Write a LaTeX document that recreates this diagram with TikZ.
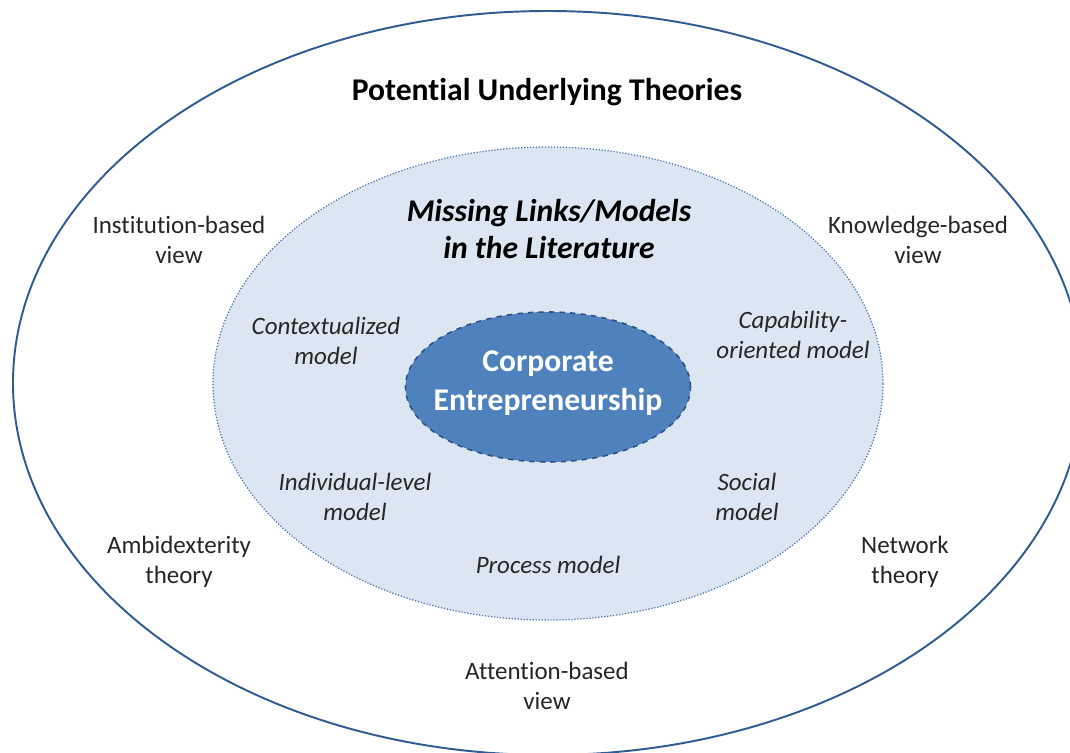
\documentclass[tikz,border=0pt]{standalone}
\usepackage{fontspec}
\setmainfont{Carlito}[Ligatures=CommonOff]
\usetikzlibrary{shapes.geometric}
\definecolor{ringblue}{HTML}{2F5C93}
\definecolor{lightfill}{HTML}{DCE6F2}
\definecolor{midline}{HTML}{4A74A8}
\definecolor{corefill}{HTML}{4F81BD}
\definecolor{coreline}{HTML}{2E5382}
\definecolor{txt}{HTML}{262626}
\tikzset{
	theory/.style={align=center, text=txt, font=\fontsize{14.2}{17.1}\selectfont},
	gap/.style={align=center, text=txt, font=\fontsize{14.2}{17.1}\selectfont\itshape},
	heading/.style={align=center, text=black, font=\fontsize{18}{21.6}\selectfont\bfseries}
}
\begin{document}
\begin{tikzpicture}
	\useasboundingbox (-10.96,-7.36) rectangle (10.44,7.68);
	\fill[white] (-10.96,-7.36) rectangle (10.44,7.68);

	\node (outer)	at (0,0.02) [ellipse, draw=ringblue, line width=1.1pt, minimum width=21.4cm, minimum height=14.88cm] {};
	\node (middle)	at (0,0.01) [ellipse, draw=midline, fill=lightfill, densely dotted, line width=0.7pt, minimum width=13.4cm, minimum height=9.46cm] {};
	\node (core)	at (0,-0.06) [ellipse, draw=coreline, fill=corefill, dashed, line width=0.9pt, minimum width=5.7cm, minimum height=3cm] {};

	\node (title)		at (-0.02,5.84) [heading] {Potential Underlying Theories};
	\node (missing)		at (0.02,3.1) [heading, font=\fontsize{18}{21.6}\selectfont\bfseries\itshape] {Missing Links/Models\\in the Literature};
	\node (ce)			at (0,0.02) [heading, text=white, font=\fontsize{18}{22.2}\selectfont\bfseries] {Corporate\\Entrepreneurship};

	\node (institution)	at (-7.38,2.88) [theory] {Institution-based\\view};
	\node (knowledge)	at (7.4,2.88) [theory] {Knowledge-based\\view};
	\node (ambidex)		at (-7.38,-3.56) [theory] {Ambidexterity\\theory};
	\node (network)		at (7.14,-3.56) [theory] {Network\\theory};
	\node (attention)	at (-0.02,-6.04) [theory] {Attention-based\\view};

	\node (context)		at (-4.44,0.86) [gap] {Contextualized\\model};
	\node (capability)	at (4.9,0.98) [gap] {Capability-\\oriented model};
	\node (individual)	at (-3.86,-2.26) [gap] {Individual-level\\model};
	\node (social)		at (3.98,-2.26) [gap] {Social\\model};
	\node (process)		at (0,-3.62) [gap] {Process model};
\end{tikzpicture}
\end{document}
